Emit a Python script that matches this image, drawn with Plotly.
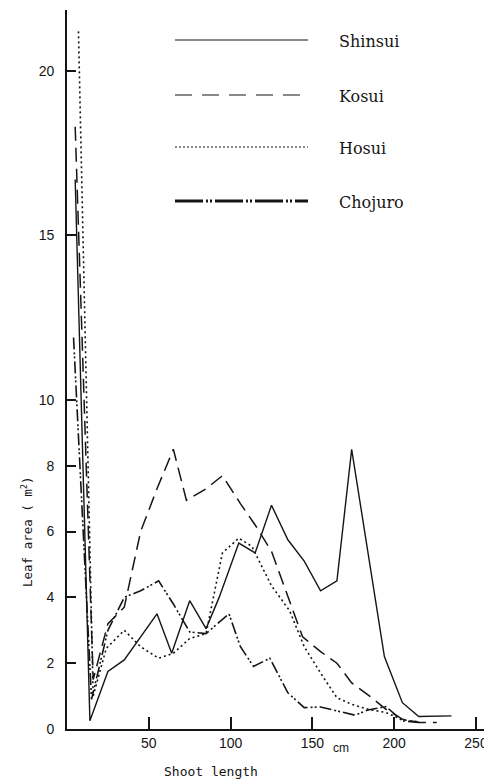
import plotly.graph_objects as go

# ---- data ----
shinsui_x = [5, 14, 25, 35, 55, 64, 75, 85, 93, 105, 115, 125, 135, 145, 155, 165, 174, 194, 205, 215, 235]
shinsui_y = [16.7, 0.25, 1.75, 2.1, 3.5, 2.3, 3.9, 3.05, 4.0, 5.65, 5.35, 6.8, 5.75, 5.1, 4.2, 4.5, 8.5, 2.2, 0.8, 0.38, 0.4]

kosui_x = [5, 16, 25, 35, 45, 55, 65, 73, 85, 95, 106, 115, 125, 135, 144, 155, 165, 174, 185, 195, 205, 215, 226]
kosui_y = [18.3, 1.5, 3.2, 3.7, 6.0, 7.3, 8.5, 6.95, 7.3, 7.7, 6.85, 6.2, 5.4, 4.0, 2.8, 2.35, 2.0, 1.4, 1.0, 0.6, 0.3, 0.2, 0.2]

hosui_x = [7, 16, 24, 35, 45, 56, 65, 75, 85, 95, 105, 113, 125, 136, 145, 155, 165, 174, 184, 195, 205, 215]
hosui_y = [21.2, 1.0, 2.45, 3.0, 2.5, 2.15, 2.3, 2.75, 2.9, 5.35, 5.8, 5.55, 4.35, 3.6, 2.5, 1.7, 0.95, 0.75, 0.6, 0.5, 0.28, 0.22]

chojuro_x = [4, 15, 25, 35, 45, 56, 65, 75, 85, 99, 106, 114, 124, 135, 145, 155, 165, 176, 184, 195, 205, 215]
chojuro_y = [11.9, 0.9, 3.0, 4.0, 4.2, 4.5, 3.8, 2.95, 2.9, 3.5, 2.5, 1.9, 2.15, 1.1, 0.65, 0.67, 0.55, 0.42, 0.58, 0.68, 0.25, 0.2]

names = ["Shinsui", "Kosui", "Hosui", "Chojuro"]
y_ticks = [0, 2, 4, 6, 8, 10, 15, 20]
x_ticks = [50, 100, 150, 200, 250]

# ---- layout geometry (pixels of the browser window; page body has an 8px margin) ----
OFF = 8
W, H = 492 - OFF, 779 - OFF
L, R, T = 67 - OFF, 7, 10 - OFF
B = H - (729 - OFF)
PW, PH = W - L - R, H - T - B

def px(xp):
    return (xp - OFF - L) / PW

def py(yp):
    return (H - B - (yp - OFF)) / PH

INK = "#151515"
chart_styles = [
    dict(width=1.4, dash="solid"),
    dict(width=1.5, dash="14px,7px"),
    dict(width=1.6, dash="2px,3px"),
    dict(width=1.6, dash="12px,3px,2px,2px,2px,3px"),
]
legend_styles = [
    dict(width=1.2, dash="solid"),
    dict(width=1.2, dash="17px,10px"),
    dict(width=1.0, dash="2px,2px"),
    dict(width=3.0, dash="28px,3px,2px,2px,2px,3px"),
]

fig = go.Figure()
series = [(shinsui_x, shinsui_y), (kosui_x, kosui_y), (hosui_x, hosui_y), (chojuro_x, chojuro_y)]
for (xs, ys), nm, st in zip(series, names, chart_styles):
    fig.add_trace(go.Scatter(x=xs, y=ys, mode="lines", name=nm,
                             line=dict(color=INK, width=st["width"], dash=st["dash"]),
                             showlegend=False, cliponaxis=True))

# legend drawn manually
legend_y_px = [40, 95, 147, 201]
shapes = []
annotations = []
for nm, yp, st in zip(names, legend_y_px, legend_styles):
    shapes.append(dict(type="line", xref="paper", yref="paper",
                       x0=px(175), x1=px(308), y0=py(yp), y1=py(yp),
                       line=dict(color=INK, width=st["width"], dash=st["dash"])))
    annotations.append(dict(xref="paper", yref="paper", x=px(337), y=py(yp + 1.5),
                            text=nm, showarrow=False, xanchor="left", yanchor="middle",
                            font=dict(family="DejaVu Serif", size=16, color=INK)))

annotations.append(dict(xref="paper", yref="paper", x=px(211), y=py(771),
                        text="Shoot length", showarrow=False, xanchor="center", yanchor="middle",
                        font=dict(family="DejaVu Sans Mono", size=13, color=INK)))
annotations.append(dict(xref="paper", yref="paper", x=px(341), y=py(748),
                        text="cm", showarrow=False, xanchor="center", yanchor="middle",
                        font=dict(family="Liberation Sans", size=12, color=INK)))
annotations.append(dict(xref="paper", yref="paper", x=px(27), y=py(532),
                        text="Leaf area ( m<sup>2</sup>)", showarrow=False, textangle=-90,
                        xanchor="center", yanchor="middle",
                        font=dict(family="DejaVu Sans Mono", size=12.5, color=INK)))

fig.update_layout(
    width=W, height=H,
    margin=dict(l=L, r=R, t=T, b=B, autoexpand=False),
    paper_bgcolor="white", plot_bgcolor="white",
    shapes=shapes, annotations=annotations,
    xaxis=dict(range=[0, 255.5], tickvals=x_ticks, ticktext=[str(v) for v in x_ticks],
               ticks="inside", ticklen=12, tickwidth=1.5, tickcolor=INK,
               showline=True, linecolor=INK, linewidth=1.6, showgrid=False, zeroline=False,
               tickfont=dict(family="Liberation Sans", size=14, color=INK)),
    yaxis=dict(range=[0, 21.85], tickvals=y_ticks, ticktext=[str(v) for v in y_ticks],
               ticks="inside", ticklen=9, tickwidth=1.5, tickcolor=INK,
               showline=True, linecolor=INK, linewidth=1.6, showgrid=False, zeroline=False,
               ticklabelstandoff=8,
               tickfont=dict(family="Liberation Sans", size=14, color=INK)),
)

fig.write_html("out.html")
